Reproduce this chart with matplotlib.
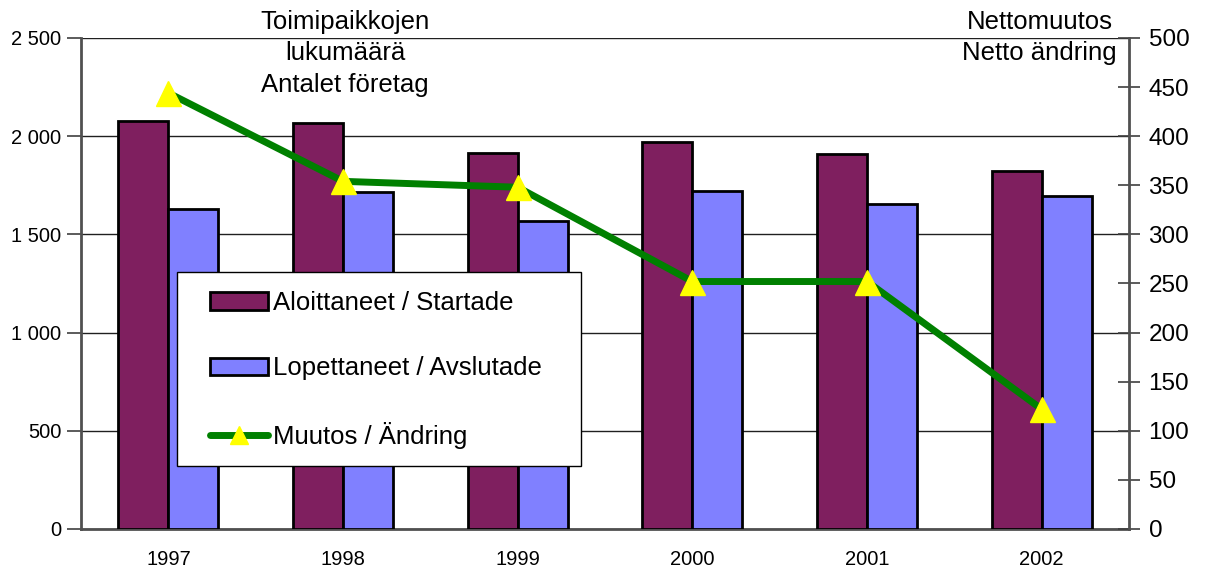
import matplotlib.pyplot as plt
from matplotlib.patches import Rectangle
import numpy as np

plt.rcParams['font.family'] = ['Liberation Sans', 'DejaVu Sans']

years = ['1997', '1998', '1999', '2000', '2001', '2002']
started = [2077, 2067, 1914, 1971, 1910, 1821]
ended = [1629, 1716, 1568, 1721, 1655, 1697]
net_change = [444, 354, 348, 252, 252, 122]

fig = plt.figure(figsize=(12.06, 5.77), dpi=100)
ax = fig.add_axes([0.0672, 0.0832, 0.8690, 0.851])

x = np.arange(len(years))
w = 0.286
b1 = ax.bar(x - w / 2, started, w, color='#7f1f5f', edgecolor='black', linewidth=2,
            label='Aloittaneet / Startade', zorder=3)
b2 = ax.bar(x + w / 2, ended, w, color='#8080ff', edgecolor='black', linewidth=2,
            label='Lopettaneet / Avslutade', zorder=3)

ax.set_xlim(-0.5, 5.5)
ax.set_ylim(0, 2500)
ax.set_yticks(range(0, 2501, 500))
ax.set_yticklabels(['0', '500', '1 000', '1 500', '2 000', '2 500'], fontsize=14.5)
ax.set_xticks(x)
ax.set_xticklabels(years, fontsize=14.5)
ax.tick_params(axis='x', length=0, pad=15)
ax.tick_params(axis='y', direction='out', length=10, width=1.2, color='#404040', pad=4)
ax.grid(axis='y', color='#202020', linewidth=1, zorder=0)
ax.set_axisbelow(True)
for s in ['top', 'right']:
    ax.spines[s].set_visible(False)
ax.spines['left'].set_color('#505050')
ax.spines['left'].set_linewidth(2)
ax.spines['bottom'].set_color('#505050')
ax.spines['bottom'].set_linewidth(2)

ax2 = ax.twinx()
ln, = ax2.plot(x, net_change, color='#008000', linewidth=5, marker='^', markersize=18,
               markerfacecolor='#ffff00', markeredgecolor='#ffff00',
               solid_capstyle='round', label='Muutos / Ändring', zorder=4)
ax2.set_ylim(0, 500)
ax2.set_yticks(range(0, 501, 50))
ax2.tick_params(axis='y', direction='inout', length=16, width=1.2, color='#404040',
                labelsize=17.5, pad=6)
for s in ['top', 'left', 'bottom']:
    ax2.spines[s].set_visible(False)
ax2.spines['right'].set_color('#505050')
ax2.spines['right'].set_linewidth(2)

# legend box
ax2.add_patch(Rectangle((0.0916, 0.128), 0.385, 0.395, transform=ax2.transAxes,
                        facecolor='white', edgecolor='black', linewidth=1, zorder=6))
leg = ax2.legend(handles=[b1, b2, ln], loc='center left', bbox_to_anchor=(0.1231, 0.3238),
                 fontsize=18.5, frameon=False, labelspacing=1.6, handlelength=2.25,
                 handleheight=0.7, handletextpad=0.2, borderpad=0, borderaxespad=0)
leg.legend_handles[2].set_markersize(13)
leg.set_zorder(7)

fig.text(0.286, 0.983, 'Toimipaikkojen\nlukumäärä\nAntalet företag', ha='center', va='top',
         fontsize=18.5, linespacing=1.4)
fig.text(0.862, 0.983, 'Nettomuutos\nNetto ändring', ha='center', va='top',
         fontsize=18.5, linespacing=1.4)

fig.savefig('out.png', dpi=100)
